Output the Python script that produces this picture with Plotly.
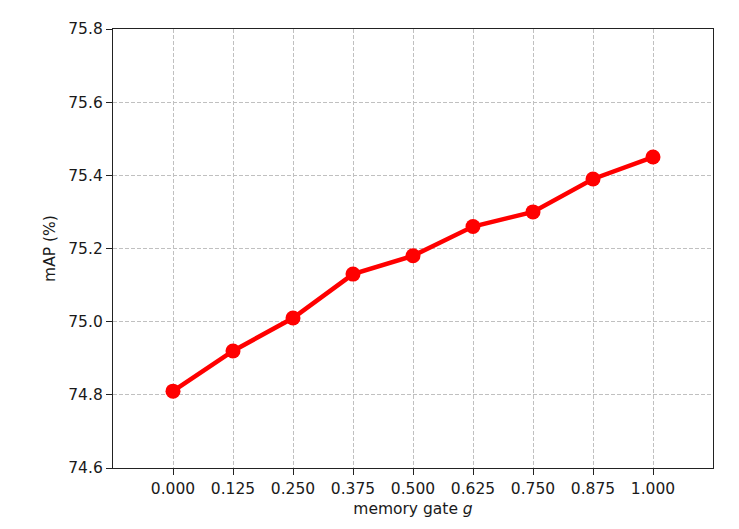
import plotly.graph_objects as go

gate = [0.0, 0.125, 0.25, 0.375, 0.5, 0.625, 0.75, 0.875, 1.0]
map_vals = [74.81, 74.92, 75.01, 75.13, 75.18, 75.26, 75.30, 75.39, 75.45]
x_ticks = ["0.000", "0.125", "0.250", "0.375", "0.500", "0.625", "0.750", "0.875", "1.000"]
y_ticks = [74.6, 74.8, 75.0, 75.2, 75.4, 75.6, 75.8]

fig = go.Figure()
fig.add_trace(go.Scatter(
    x=gate, y=map_vals, mode="lines+markers",
    line=dict(color="#ff0000", width=4.5),
    marker=dict(color="#ff0000", size=15),
    showlegend=False,
))

font = dict(family="DejaVu Sans", size=15.5, color="#1a1a1a")
axis_common = dict(
    showgrid=True, gridcolor="#c0c0c0", griddash="4px,2px", gridwidth=1,
    showline=True, linecolor="#222222", linewidth=1.3, mirror=True,
    ticks="outside", ticklen=6, tickcolor="#222222", tickwidth=1.2,
    zeroline=False, tickfont=font,
)
fig.update_layout(
    width=739, height=529,
    margin=dict(l=105, r=34, t=17, b=69),
    paper_bgcolor="white", plot_bgcolor="white",
    font=font,
    xaxis=dict(
        range=[-0.125, 1.125], tickvals=gate, ticktext=x_ticks,
        title=dict(text="memory gate <i>g</i>", font=font, standoff=6),
        **axis_common,
    ),
    yaxis=dict(
        range=[74.6, 75.8], tickvals=y_ticks, ticktext=[f"{v:.1f}" for v in y_ticks],
        title=dict(text="mAP (%)", font=font, standoff=8),
        **axis_common,
    ),
)

fig.write_html("out.html")
